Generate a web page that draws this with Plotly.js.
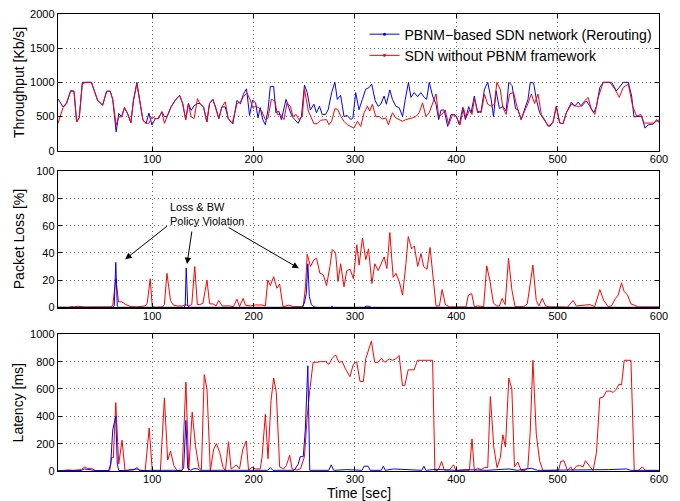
<!DOCTYPE html>
<html>
<head>
<meta charset="utf-8">
<script src="https://cdn.plot.ly/plotly-3.0.1.min.js"></script>
<style>html,body{margin:0;padding:0;background:#fff;}#chart{width:680px;height:501px;}</style>
</head>
<body>
<div id="chart"></div>
<script>
// ---------- Data (time in seconds) ----------
const seriesNames = ["PBNM\u2212based SDN network (Rerouting)", "SDN without PBNM framework"];
const xTicks = [100, 200, 300, 400, 500, 600];

// Throughput [Kb/s]
const tpBlueT = [7,12,15.5,19.5,22.8,25.4,28,31,35,40,46,51,55,58.5,61,64.4,67,69.7,72.6,75.6,78.9,81.5,84.8,87.5,90.8,94,96.7,99.7,103,106,109.5,112,114.5,118.5,122.8,127,130,133,135.7,138.4,141.3,144.6,147,150.6,153.9,156.5,159.8,163,165.7,168.7,172,175,179.5,183.6,187,190,193,196,199,202,204.3,206.6,209,211.6,214.2,216.5,219.8,222,224.8,227.4,232,234.7,238,240.6,244,247.2,250.2,252.9,256,259.5,262,265,267.7,271,273.6,277,280.2,282.6,285.9,289.2,292.5,295.8,298,300.7,304,307.3,310.6,314,316.5,320,323,325.5,328.8,331,334.4,337,340.3,343.6,347,349.6,352.8,355.2,358.5,361.8,365,368.4,370.7,373.3,376.6,380,382.6,385,388,391.5,394.8,398,400,403,406.3,409,412.2,414.6,417.8,421,424.5,427.8,431,434.4,436.7,439.3,442.6,445.9,449.2,451.8,455.1,458.4,460.8,464,467.4,470.7,473,476.3,479,482.2,485.5,488.8,492.1,495.4,498.7,502,505.3,508.6,513.6,516.9,520.2,523.5,528.4,531.7,535.7,538.3,541.6,545,549,553.2,558.1,562.1,564.7,569.7,573,575.3,579.6,582.9,586.2,589.5,594.4,597.7,600];
const tpBlueV = [760,640,700,880,870,420,485,1000,1000,1000,740,665,870,870,750,275,545,495,630,545,410,740,1000,740,445,400,550,375,470,470,570,500,495,640,740,810,690,455,690,590,660,690,690,640,420,690,750,615,470,640,640,470,390,735,685,830,905,515,740,700,480,630,455,380,600,940,940,555,580,455,750,630,500,455,400,500,960,850,595,680,555,650,530,530,600,850,1000,750,810,500,515,455,480,850,600,750,900,925,975,730,650,680,800,680,890,750,650,630,500,750,1000,780,850,790,850,780,750,1000,800,680,455,595,595,355,530,530,505,380,630,455,645,555,800,555,580,900,1000,750,500,875,615,650,580,1000,950,615,600,455,600,750,1000,990,750,555,480,405,355,415,650,405,395,555,710,650,710,650,730,650,555,650,925,1000,1000,1000,875,950,1000,1000,800,495,505,505,330,380,390,455,410];
const tpRedT = [7,12,15.5,19.5,22.8,25.4,28,31,35,40,46,51,55,58.5,61,64.4,67,69.7,72.6,75.6,78.9,81.5,84.8,87.5,90.8,94,96.7,99.7,103,106,109.5,112,114.5,118.5,122.8,127,130,133,135.7,138.4,141.3,144.6,147,150.6,153.9,156.5,159.8,163,165.7,168.7,172,175,179,183.6,187,190,193.4,196.7,199.4,201.7,205,208,211.6,214.2,217.5,221,223.5,226.5,230,233,236.4,238.7,242,244.6,248,250.2,254,259.5,262.7,266,269.4,272,274.3,277,280.2,283,286,289.2,292.5,295.8,299,302.4,305.7,309,312.3,314.6,317.2,320.5,323.8,327,330.4,333,337,340.3,343.6,347,350.2,353.5,356.8,360.1,363.4,366.7,370,373.3,376.6,380,382.6,385.8,389,392.5,396.4,399.7,403.7,407,409.6,413,415.5,417.8,421,424.5,427.8,431,434.4,437.6,440,443.3,445.9,449.2,452.5,456.5,459.8,464,467.4,470.7,474,477.3,480.6,483.9,487.2,490.5,495.4,498.7,502,505.3,508.6,513.6,518.5,522.5,526.7,530,533.4,536.7,540,545,551.5,556.5,560.8,564.7,569.7,574,578,582,585.2,589.5,594.4,597.7,600];
const tpRedV = [400,630,690,870,870,420,485,980,1000,1000,740,665,870,870,750,375,495,495,630,545,410,740,980,740,445,400,400,495,470,470,570,400,495,640,740,810,690,455,690,495,470,760,690,640,420,690,750,615,470,640,715,470,400,690,715,790,845,740,620,650,630,580,455,480,750,730,530,530,455,700,650,500,530,455,500,900,580,395,395,445,445,455,380,430,615,605,500,430,380,355,330,430,355,555,650,580,680,500,500,465,480,380,555,480,455,430,455,465,480,500,555,700,500,555,680,830,500,530,595,380,530,505,380,630,480,595,530,760,580,555,825,680,650,680,1000,900,630,530,830,850,650,455,580,690,830,690,830,530,455,355,415,650,405,395,555,680,650,650,730,780,600,530,780,1000,1000,900,780,925,975,650,505,530,405,405,405,430,450];

// Packet Loss [%]
const lossBlueT = [7,61,62.5,64,65.5,67,131,132.5,133.5,135,137,248,250,252,253.5,255,257,259,262,276,277,279,309,311,314,316,600];
const lossBlueV = [0,0,1,33,1,0,0,1,29,1,0,0,3,10,32,8,2,0.5,0,0,0.8,0,0,0.8,0.8,0,0];
const lossRedT = [7,18,20,23,26,29,34,40,50,58,61,64,66.7,70,74,79,85,90,93,95,98,100,103,110,112,114.5,118,121,125,130,133,136,139,141.9,144.5,147,150,154,156.6,160,163,165.6,169,177,180,183.6,186,189.7,192,196.7,201.7,208.3,211.6,214,216.5,219.8,223,225.7,229,234.6,239.6,244.6,248.9,251.2,252.9,256.2,259.5,262.1,265.4,268.7,272,275.3,277.6,280.9,283.3,285.9,289.2,291.9,295.2,298.5,301.8,304.1,307.4,310.7,313.4,316.7,319.6,322.9,325.5,328.8,331.5,334.4,337.7,340.4,343.7,347,350.3,352.6,355.9,358.6,361.9,365.2,367.8,371.1,374.1,376.7,380,383.3,386,389.3,393.3,398.2,404.8,409.5,411.9,415.2,417.8,421.1,427,430,433.3,436.6,439.9,442.6,445.2,448.2,451.5,454.8,458,462.4,466.6,470,473.2,475.6,478.9,481.5,484.8,488.1,492,500,503.6,509.6,515.2,518.5,523.4,531.7,536.6,541.6,545.5,549.8,553.1,557,559.7,563,565.7,569,572.3,575.6,579.5,590,600];
const lossRedV = [0,0,0.6,0.3,0.8,0.4,0.2,0.3,0,0.3,1,21,4,4,2,0.5,0.3,0.6,1,3,21,0.5,0,0.2,2,25,5,1.5,1,1,2,1,2,30,2,2,3,20,2.5,2.5,1,5,1,1,0.5,6,0.5,6.5,1.5,1,1.7,1.7,1,20,16,22.5,14,17,0.5,1.5,0.5,0.5,0.5,15,39,30,35,36,25,24,16,30,42.5,40,19,32,15,27,28,21,46,31,51,35,43,17.5,32,27,31,37,28.5,55,22,25,19,9,32,52,43,45,30,39.5,30,28,44,27,1,1,13,2,0.3,0.3,0,0.3,9,10,0.5,1,0.5,30.5,19,3,1,1,6.5,2,36,13,0.5,0.5,0.5,2.5,20,31,5,1,6.5,1,0.3,0.5,0.3,0,5,1,1.5,2,0.5,13,5,0.5,1,6.5,9,18,11.5,9,2.5,1.5,0.3,0.3,0.3];

// Latency [ms]
const latBlueT = [7,20,30,33,36,40,45,57,59,61,64,65.5,67,75,85,88,100,110,120,129,131,133.2,135,138,141,144,147,160,180,200,214,216.5,219,240,244,246,249,251,253.5,255.4,270,274,276.6,279,292,300,307,309,313,315,326,328,330,338,349,366,368,370,380,400,409,430,452,460,474,480,550,564,568,572,600];
const latBlueV = [3,5,4,15,10,8,3,3,50,300,400,50,3,5,15,3,5,3,5,5,20,370,20,5,17,17,5,5,3,5,5,25,5,5,50,105,105,300,770,5,5,5,45,5,10,5,5,35,35,5,5,35,5,15,10,5,35,5,12,5,10,5,15,5,20,5,10,15,15,5,5];
const latRedT = [7,12,17,22,26,30,33.5,36,40,43.5,48,58,60,61.6,64,66.9,70.2,73.2,78,81.5,84.8,87.5,93,97,100,108,112,115.2,118,121.3,124.5,129.5,133.2,136,139.4,142.7,146,148.5,151.3,154,157.3,160.6,163.3,166.6,169.9,172.2,175.2,177.8,180.5,182.8,186.1,189.4,192.7,195,198.4,201.7,206.6,208.3,211.6,214.2,217.2,219.8,222.4,225.7,229.7,232.3,235.6,238,242.9,246.2,250.2,252.8,255.4,258.7,262,266,271,274.3,277.6,280.9,284.2,287.5,290.8,295,298.4,301.7,305,308.3,310.6,316.2,319.5,322.8,326.1,329.4,333.7,337,340.3,343.6,346.9,349.2,352.5,358.4,361.7,366.7,376.6,378.9,382.2,385.5,388.1,393.1,397.3,399.7,404.6,412.9,415.5,417.8,421,424.4,427.7,431,433.6,437,440.2,443.5,445.9,448.5,451.8,454.8,457.4,460.7,464,468,470.6,472.9,475.6,478.9,482.2,485.5,490.4,497,501,503,506.3,509.6,512.9,515.2,518.5,521.8,525.1,527.4,530.7,535,538.3,541.6,544.9,548.2,551.5,554.8,558.1,560.4,563,565.7,572.3,575.6,579.5,583.5,586.8,600];
const latRedV = [0,5,8,5,8,10,30,18,20,3,3,3,100,95,500,50,225,0,7,7,25,7,3,315,3,0,535,80,145,40,3,3,650,3,430,185,25,10,705,600,3,160,200,135,25,3,215,15,27,45,15,160,220,7,27,15,15,100,415,90,515,680,575,30,15,40,115,15,7,15,105,390,590,795,795,800,800,780,825,850,795,800,745,690,780,800,655,655,820,950,795,795,825,795,820,810,820,845,625,625,740,740,810,810,810,0,7,70,7,7,45,3,5,5,235,3,20,10,25,25,545,175,25,100,265,175,680,600,30,65,3,3,25,285,810,270,75,3,3,3,5,70,75,3,30,3,35,40,30,75,40,3,135,535,540,585,585,575,600,635,630,810,810,3,3,30,3,3];

// Annotation: arrow heads (t, loss %) and tails
const arrowHeads = [[73.3, 35.3], [134.3, 31.8], [244.6, 28.7]];
const arrowTails = [[116, 60.5], [139.3, 56.8], [173.9, 59.3]];
const noteText = "Loss &amp; BW<br>Policy Violation";
const notePos = [116, 68.7];

// ---------- Chart ----------
const BLUE = '#0000ff', RED = '#ff0000';
function tr(x, y, color, name, xa, ya) {
  return {x: x, y: y, type: 'scatter', mode: 'lines', name: name,
    line: {color: color, width: 1}, xaxis: xa, yaxis: ya, showlegend: false, hoverinfo: 'skip'};
}
function legendEntry(color, name) {
  return {x: [null], y: [null], type: 'scatter', mode: 'lines+markers', name: name,
    line: {color: color, width: 1}, marker: {color: color, size: 3}, xaxis: 'x', yaxis: 'y', showlegend: true, hoverinfo: 'skip'};
}
const data = [
  tr(tpBlueT, tpBlueV, BLUE, seriesNames[0], 'x', 'y'),
  tr(tpRedT, tpRedV, RED, seriesNames[1], 'x', 'y'),
  tr(lossRedT, lossRedV, RED, seriesNames[1], 'x2', 'y2'),
  tr(lossBlueT, lossBlueV, BLUE, seriesNames[0], 'x2', 'y2'),
  tr(latRedT, latRedV, RED, seriesNames[1], 'x3', 'y3'),
  tr(latBlueT, latBlueV, BLUE, seriesNames[0], 'x3', 'y3'),
  legendEntry(BLUE, seriesNames[0]),
  legendEntry(RED, seriesNames[1])
];

const FONT = 'Liberation Sans, Arial, Helvetica, sans-serif';
const GRID = {showgrid: true, gridcolor: '#6e6e6e', griddash: '1px,3px', gridwidth: 1};
function xax(anchor) {
  return Object.assign({anchor: anchor, domain: [0, 1], range: [7, 600], tickvals: xTicks, ticktext: xTicks.map(String),
    ticks: 'inside', ticklen: 4, tickcolor: '#000', showline: true, linecolor: '#000', linewidth: 1.2,
    mirror: 'allticks', zeroline: false, ticklabelstandoff: -2,
    tickfont: {size: 11, color: '#000', family: FONT}, fixedrange: true}, GRID);
}
function yax(anchor, dom, rng, dt) {
  return Object.assign({anchor: anchor, domain: dom, range: rng, dtick: dt, tick0: 0,
    ticks: 'inside', ticklen: 4, tickcolor: '#000', showline: true, linecolor: '#000', linewidth: 1.2,
    mirror: 'allticks', zeroline: false, tickfont: {size: 11, color: '#000', family: FONT}, fixedrange: true}, GRID);
}

const annotations = [
  {xref: 'paper', yref: 'paper', x: -0.065, y: 0.851, text: 'Throughput [Kb/s]', textangle: -90, showarrow: false, font: {size: 14, family: FONT, color: '#000'}, xanchor: 'center', yanchor: 'middle'},
  {xref: 'paper', yref: 'paper', x: -0.065, y: 0.507, text: 'Packet Loss [%]', textangle: -90, showarrow: false, font: {size: 14, family: FONT, color: '#000'}, xanchor: 'center', yanchor: 'middle'},
  {xref: 'paper', yref: 'paper', x: -0.065, y: 0.150, text: 'Latency [ms]', textangle: -90, showarrow: false, font: {size: 14, family: FONT, color: '#000'}, xanchor: 'center', yanchor: 'middle'},
  {xref: 'paper', yref: 'paper', x: 0.5, y: -0.0675, text: 'Time [sec]', showarrow: false, font: {size: 14, family: FONT, color: '#000'}, xanchor: 'center', yanchor: 'bottom', borderpad: 0},
  {xref: 'x2', yref: 'y2', x: notePos[0], y: notePos[1], text: noteText, showarrow: false, align: 'left', xanchor: 'left', yanchor: 'middle', font: {size: 11, family: FONT, color: '#000'}}
];
arrowHeads.forEach(function (h, i) {
  annotations.push({xref: 'x2', yref: 'y2', axref: 'x2', ayref: 'y2', x: h[0], y: h[1], ax: arrowTails[i][0], ay: arrowTails[i][1],
    text: '', showarrow: true, arrowhead: 2, arrowsize: 1.3, arrowwidth: 1, arrowcolor: '#000', standoff: 0});
});

const layout = {
  width: 680, height: 501,
  margin: {l: 58, r: 21, t: 14, b: 30, pad: 0},
  paper_bgcolor: '#fff', plot_bgcolor: '#fff',
  font: {family: FONT, size: 11, color: '#000'},
  showlegend: true,
  legend: {x: 0.51, xanchor: 'left', y: 0.99, yanchor: 'top', bgcolor: 'rgba(255,255,255,0)',
    borderwidth: 0, font: {size: 14, family: FONT, color: '#000'}, itemwidth: 30},
  xaxis: xax('y'), yaxis: yax('x', [0.7009, 1], [0, 2000], 500),
  xaxis2: xax('y2'), yaxis2: yax('x2', [0.3582, 0.6558], [0, 100], 20),
  xaxis3: xax('y3'), yaxis3: yax('x3', [0, 0.2991], [0, 1000], 200),
  annotations: annotations
};

Plotly.newPlot('chart', data, layout, {staticPlot: true, displayModeBar: false});
</script>
</body>
</html>
